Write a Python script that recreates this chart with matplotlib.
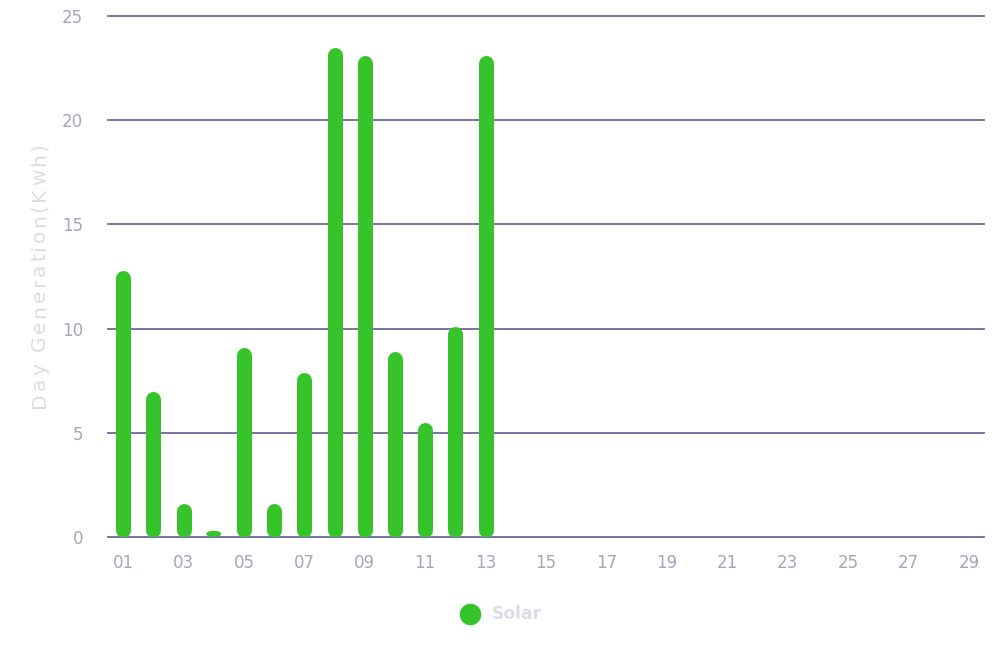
import matplotlib
matplotlib.use("Agg")
import matplotlib.pyplot as plt
from matplotlib.patches import Ellipse
from matplotlib.font_manager import FontProperties
from matplotlib.textpath import TextToPath

days = [f"{d:02d}" for d in range(1, 30)]
solar = [12.8, 7.0, 1.6, 0.3, 9.1, 1.6, 7.9, 23.5, 23.1, 8.9, 5.5, 10.1, 23.1]
y_ticks = [0, 5, 10, 15, 20, 25]
y_label = "Day Generation(Kwh)"
legend_label = "Solar"

GREEN = "#36c42a"
GRID = "#6b689c"
TICK = "#a5a5bc"
LIGHT = "#dcdce6"

plt.rcParams['font.family'] = ['DejaVu Sans']

W, H = 1000, 666
DPI = 100
fig = plt.figure(figsize=(10, 6.66), dpi=DPI)
left_px, right_px, top_px, bot_px = 108, 984, 16, 537
ax = fig.add_axes([left_px / W, 1 - bot_px / H, (right_px - left_px) / W, (bot_px - top_px) / H])

n = len(days)
ax.set_xlim(-0.5, n - 0.5)
ax.set_ylim(0, 25)

x_per_px = n / (right_px - left_px)
y_per_px = 25 / (bot_px - top_px)
bar_px = 15
bw = bar_px * x_per_px
half_cap = (bar_px / 2) * y_per_px
lw_pt = bar_px * 72 / DPI

for i, v in enumerate(solar):
    if v > 2 * half_cap:
        ax.plot([i, i], [half_cap, v - half_cap], color=GREEN, linewidth=lw_pt,
                solid_capstyle='round', zorder=3)
    else:
        ax.add_patch(Ellipse((i, v / 2), bw, v, facecolor=GREEN,
                             edgecolor='none', zorder=3))

ax.set_yticks(y_ticks)
ax.yaxis.grid(True, color=GRID, linewidth=1.3)
ax.set_axisbelow(True)
for gl in ax.get_ygridlines():
    gl.set_clip_on(False)
ax.set_xticks(range(0, n, 2))
ax.set_xticklabels(days[::2])
for s in ax.spines.values():
    s.set_visible(False)
ax.tick_params(axis='both', length=0, colors=TICK, labelsize=12)
ax.tick_params(axis='y', pad=18)
ax.tick_params(axis='x', pad=12)

# letter-spaced vertical y-axis label
fs = 14.5
prop = FontProperties(family='DejaVu Sans', size=fs)
t2p = TextToPath()
widths = [t2p.get_text_width_height_descent(c, prop, ismath=False)[0] for c in y_label]
widths_px = [w * DPI / 72 for w in widths]
span_bot, span_top = 408, 143
natural = sum(widths_px)
gap = (span_bot - span_top - natural) / (len(y_label) - 1)
ypos = span_bot
base_x = 45
for c, w in zip(y_label, widths_px):
    fig.text(base_x / W, 1 - ypos / H, c, rotation=90, rotation_mode='anchor',
             ha='left', va='baseline', fontproperties=prop, color=LIGHT)
    ypos -= w + gap

fig.lines.append(plt.Line2D([470 / W], [1 - 614 / H], marker='o', markersize=14.5,
                            color=GREEN, linestyle='none', transform=fig.transFigure))
fig.text(492 / W, 1 - 614 / H, legend_label, ha='left', va='center',
         fontsize=12.3, color=LIGHT, fontweight='bold')

fig.savefig("out.png", dpi=DPI)
